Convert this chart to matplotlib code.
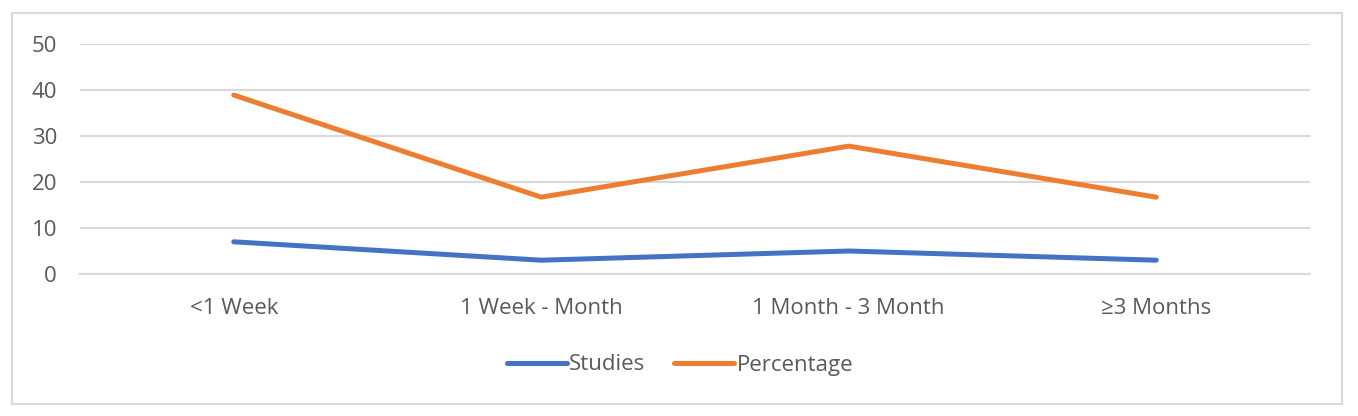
import matplotlib.pyplot as plt
from matplotlib.patches import Rectangle

categories = ['<1 Week', '1 Week - Month', '1 Month - 3 Month', '≥3 Months']
studies = [7, 3, 5, 3]
percentage = [38.9, 16.7, 27.8, 16.7]
yticks = [0, 10, 20, 30, 40, 50]

plt.rcParams['font.family'] = ['Open Sans', 'DejaVu Sans']
text_col = '#595959'

fig = plt.figure(figsize=(13.58, 4.16), dpi=100)
ax = fig.add_axes([80 / 1358, 1 - 274 / 416, 1230 / 1358, 230 / 416])

# chart border like Excel
fig.patches.append(Rectangle((12 / 1358, 12 / 416), 1330 / 1358, 391 / 416,
                             transform=fig.transFigure, fill=False,
                             edgecolor='#D9D9D9', linewidth=1.5))

x = range(len(categories))
ax.plot(x, studies, color='#4472C4', lw=3.6, solid_capstyle='round', label='Studies')
ax.plot(x, percentage, color='#ED7D31', lw=3.6, solid_capstyle='round', label='Percentage')

ax.set_xlim(-0.5, len(categories) - 0.5)
ax.set_ylim(0, 50)
ax.set_yticks(yticks)
ax.set_xticks(list(x))
ax.set_xticklabels(categories)
ax.yaxis.grid(True, color='#D9D9D9', lw=1.5)
ax.set_axisbelow(True)
for s in ax.spines.values():
    s.set_visible(False)
ax.tick_params(length=0, labelsize=16, colors=text_col)
ax.tick_params(axis='y', pad=16.5)
ax.tick_params(axis='x', pad=17)
ax.spines['bottom'].set_visible(True)
ax.spines['bottom'].set_color('#D9D9D9')
ax.spines['bottom'].set_linewidth(1.5)

leg = fig.legend(loc='center', bbox_to_anchor=(680 / 1358, 1 - 365 / 416), ncol=2,
                 frameon=False, fontsize=16, handlelength=2.7, handletextpad=0.1,
                 columnspacing=1.3)
for t in leg.get_texts():
    t.set_color(text_col)

fig.savefig('out.png', dpi=100)
